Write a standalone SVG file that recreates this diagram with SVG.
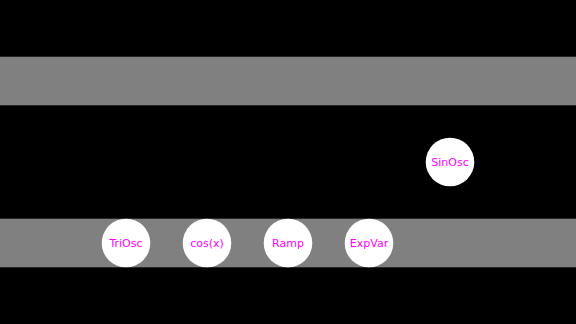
<svg xmlns="http://www.w3.org/2000/svg" width="576" height="324" viewBox="0 0 576 324">
<style>
.band{fill:#808080}
.node circle{fill:#ffffff}
.node text{fill:#ff00ff;font-family:"DejaVu Sans",sans-serif;font-size:11px;text-anchor:middle;dominant-baseline:central}
</style>
<rect width="576" height="324" fill="#000000"/>
<rect class="band" x="0" y="56.7" width="576" height="48.6"/>
<rect class="band" x="0" y="218.7" width="576" height="48.6"/>
<g id="connectors"></g>
<g id="TriOsc" class="node"><circle cx="126" cy="243" r="24.3"/><text x="126" y="243">TriOsc</text></g>
<g id="cosx" class="node"><circle cx="207" cy="243" r="24.3"/><text x="207" y="243">cos(x)</text></g>
<g id="Ramp" class="node"><circle cx="288" cy="243" r="24.3"/><text x="288" y="243">Ramp</text></g>
<g id="ExpVar" class="node"><circle cx="369" cy="243" r="24.3"/><text x="369" y="243">ExpVar</text></g>
<g id="SinOsc" class="node"><circle cx="450" cy="162" r="24.3"/><text x="450" y="162">SinOsc</text></g>
</svg>
